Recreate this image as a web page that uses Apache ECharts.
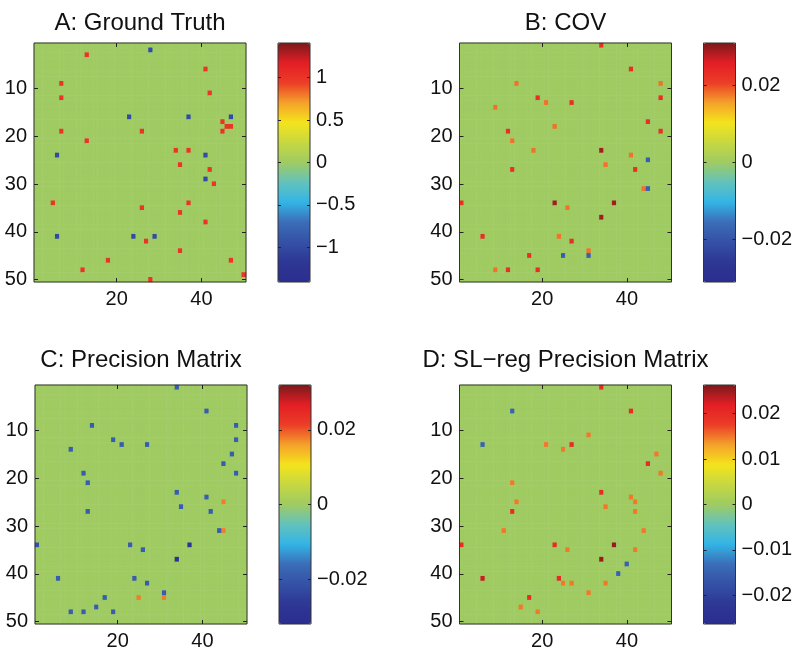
<!DOCTYPE html>
<html lang="en">
<head>
<meta charset="utf-8">
<title>Ground truth vs estimated precision matrices</title>
<script src="https://cdn.jsdelivr.net/npm/echarts@6/dist/echarts.min.js"></script>
<style>
    body { margin: 0; background: #fff; }
    #chart { width: 800px; height: 656px; }
</style>
</head>
<body>
<div id="chart"></div>

<script>
    // matrix size and tick labels
    var N = 50;
    var xTicks = [20, 40];
    var yTicks = [10, 20, 30, 40, 50];

    // nonzero entries as [column, row, value]; every other cell is 0
    var groundTruth = [
        [13,3,1],[28,2,-1],[41,6,1],[7,9,1],[42,11,1],[7,12,1],[23,16,-1],[37,16,-1],[47,16,-1],
        [45,17,1],[46,18,1],[47,18,1],[7,19,1],[26,19,1],[45,19,1],[13,21,1],[34,23,1],[37,23,1],
        [6,24,-1],[41,24,-1],[35,26,1],[42,27,1],[41,29,-1],[43,30,1],[5,34,1],[37,34,1],[26,35,1],
        [35,36,1],[41,38,1],[6,41,-1],[24,41,-1],[29,41,-1],[27,42,1],[35,44,1],[18,46,1],[47,46,1],
        [12,48,1],[50,49,1],[28,50,1]
    ];
    var covEst = [
        [34,1,0.023],[41,6,0.023],[14,9,0.018],[48,9,0.018],[19,12,0.023],[48,12,0.023],[21,13,0.018],
        [27,13,0.023],[9,14,0.018],[45,17,0.023],[23,18,0.018],[12,19,0.023],[48,19,0.023],[13,21,0.018],
        [18,23,0.018],[34,23,0.029],[41,24,0.018],[45,25,-0.018],[35,26,0.018],[13,27,0.023],[42,27,0.023],
        [44,31,0.018],[45,31,-0.018],[1,34,0.023],[23,34,0.029],[37,34,0.029],[26,35,0.018],[34,37,0.029],
        [6,41,0.023],[24,41,0.018],[27,42,0.023],[31,44,0.018],[17,45,0.023],[25,45,-0.018],[31,45,-0.018],
        [9,48,0.018],[12,48,0.023],[19,48,0.023]
    ];
    var precisionEst = [
        [34,1,-0.019],[41,6,-0.019],[14,9,-0.019],[48,9,-0.019],[19,12,-0.019],[48,12,-0.019],[21,13,-0.019],
        [27,13,-0.019],[9,14,-0.019],[47,15,-0.019],[45,17,-0.019],[12,19,-0.019],[48,19,-0.019],[13,21,-0.019],
        [34,23,-0.019],[41,24,-0.019],[45,25,0.018],[35,26,-0.019],[13,27,-0.019],[42,27,-0.019],[44,31,-0.019],
        [45,31,0.018],[1,34,-0.021],[23,34,-0.019],[37,34,-0.029],[26,35,-0.019],[34,37,-0.029],[6,41,-0.019],
        [24,41,-0.019],[27,42,-0.019],[31,44,-0.019],[17,45,-0.019],[25,45,0.018],[31,45,0.018],[15,47,-0.019],
        [9,48,-0.019],[12,48,-0.019],[19,48,-0.019]
    ];
    var slregEst = [
        [34,1,0.02],[13,6,-0.015],[41,6,0.02],[31,11,0.015],[6,13,-0.015],[21,13,0.015],[27,13,0.02],
        [25,14,0.015],[47,15,0.015],[45,17,0.02],[48,19,0.015],[13,21,0.015],[34,23,0.02],[41,24,0.015],
        [14,25,0.015],[42,25,0.015],[35,26,0.015],[13,27,0.02],[42,27,0.015],[11,31,0.015],[44,31,0.015],
        [1,34,0.02],[23,34,0.02],[37,34,0.025],[26,35,0.015],[42,35,0.015],[34,37,0.025],[40,38,-0.015],
        [38,40,-0.015],[6,41,0.023],[24,41,0.02],[25,42,0.015],[27,42,0.015],[35,42,0.015],[31,44,0.015],
        [17,45,0.02],[15,47,0.015],[19,48,0.015]
    ];

    var titles = ['A: Ground Truth', 'B: COV', 'C: Precision Matrix', 'D: SL\u2212reg Precision Matrix'];
    var colorMax = [1.41, 0.031, 0.032, 0.0263];
    var colorTicks = [
        [1, 0.5, 0, -0.5, -1],
        [0.02, 0, -0.02],
        [0.02, 0, -0.02],
        [0.02, 0.01, 0, -0.01, -0.02]
    ];
</script>

<script>
    var FONT = '"Liberation Sans", Arial, Helvetica, sans-serif';
    var jet = ['#2b2e8e', '#2e3795', '#3451a6', '#3b6db8', '#33b4e6', '#63c2bd', '#9fcb62',
               '#c6d842', '#f4e41c', '#f4a12a', '#ec3d27', '#e31e25', '#7b1a1c'];

    var matrices = [groundTruth, covEst, precisionEst, slregEst];
    var panels = [
        { left: 34, top: 43, titleTop: 11 },
        { left: 459.5, top: 43, titleTop: 11 },
        { left: 35, top: 385, titleTop: 348 },
        { left: 459.5, top: 385, titleTop: 348 }
    ];
    var W = 212, H = 239, BAR_W = 32, BAR_GAP = 32;

    var cats = [];
    for (var k = 1; k <= N; k++) cats.push(String(k));

    // full matrix for the heatmap, zeros outside the listed entries
    function fullMatrix(entries) {
        var lookup = {};
        entries.forEach(function (e) { lookup[(e[0] - 1) + ',' + (e[1] - 1)] = e[2]; });
        var out = [];
        for (var c = 0; c < N; c++) {
            for (var r = 0; r < N; r++) {
                var v = lookup[c + ',' + r];
                out.push([c, r, v === undefined ? 0 : v]);
            }
        }
        return out;
    }

    function minusSign(v) {
        return String(v).replace('-', '\u2212');
    }
    function onTicks(list) {
        return function (idx, val) { return list.indexOf(+val) >= 0; };
    }

    var labelStyle = { color: '#111', fontFamily: FONT, fontSize: 20 };
    var tickLine = { color: '#222', width: 1 };

    var option = {
        animation: false,
        title: [], grid: [], xAxis: [], yAxis: [], visualMap: [], series: []
    };

    // axis carrying only tick marks, moved onto the opposite edge so the marks point inward
    function tickOnlyAxis(base, offset, len) {
        return Object.assign({
            offset: offset, z: 12,
            axisLine: { show: false }, splitLine: { show: false }, axisLabel: { show: false },
            axisTick: { show: true, length: len, lineStyle: tickLine }
        }, base);
    }

    panels.forEach(function (p, i) {
        var cx = p.left + W / 2;
        option.title.push({
            text: titles[i], left: cx, top: p.titleTop, textAlign: 'center', padding: 0,
            textStyle: { fontFamily: FONT, fontSize: 24, fontWeight: 'normal', color: '#111' }
        });

        // image grid
        var g = option.grid.length;
        option.grid.push({
            left: p.left, top: p.top, width: W, height: H, show: true, z: 10,
            backgroundColor: 'transparent', borderColor: '#333', borderWidth: 1
        });
        var xi = option.xAxis.length, yi = option.yAxis.length;
        option.xAxis.push({
            type: 'category', data: cats, gridIndex: g, position: 'bottom',
            axisLine: { show: false }, splitLine: { show: false }, axisTick: { show: false },
            axisLabel: Object.assign({ margin: 7, interval: onTicks(xTicks) }, labelStyle)
        });
        option.yAxis.push({
            type: 'category', data: cats, gridIndex: g, position: 'left', inverse: true,
            axisLine: { show: false }, splitLine: { show: false }, axisTick: { show: false },
            axisLabel: Object.assign({ margin: 7, interval: onTicks(yTicks) }, labelStyle)
        });
        ['top', 'bottom'].forEach(function (pos) {
            var a = tickOnlyAxis({ type: 'category', data: cats, gridIndex: g, position: pos }, -H, 4);
            a.axisTick.interval = onTicks(xTicks);
            a.axisTick.alignWithLabel = true;
            option.xAxis.push(a);
        });
        ['left', 'right'].forEach(function (pos) {
            var a = tickOnlyAxis({ type: 'category', data: cats, gridIndex: g, position: pos, inverse: true }, -W, 4);
            a.axisTick.interval = onTicks(yTicks);
            a.axisTick.alignWithLabel = true;
            option.yAxis.push(a);
        });

        option.series.push({
            type: 'heatmap', xAxisIndex: xi, yAxisIndex: yi,
            data: fullMatrix(matrices[i]), progressive: 0,
            emphasis: { disabled: true }, itemStyle: { borderWidth: 0 }
        });

        // colorbar
        var barLeft = p.left + W + BAR_GAP;
        option.visualMap.push({
            type: 'continuous', seriesIndex: i, min: -colorMax[i], max: colorMax[i],
            calculable: false, hoverLink: false, orient: 'vertical', padding: 0,
            left: barLeft, top: p.top, itemWidth: BAR_W, itemHeight: H,
            inRange: { color: jet }
        });
        var gb = option.grid.length;
        option.grid.push({
            left: barLeft, top: p.top, width: BAR_W, height: H, show: true, z: 10,
            backgroundColor: 'transparent', borderColor: '#333', borderWidth: 1
        });
        option.xAxis.push({ type: 'value', gridIndex: gb, show: false, min: 0, max: 1 });
        option.yAxis.push({
            type: 'value', gridIndex: gb, position: 'right', min: -colorMax[i], max: colorMax[i],
            axisLine: { show: false }, splitLine: { show: false }, axisTick: { show: false },
            axisLabel: Object.assign({ margin: 6, customValues: colorTicks[i], formatter: minusSign }, labelStyle)
        });
        ['left', 'right'].forEach(function (pos) {
            var a = tickOnlyAxis({ type: 'value', gridIndex: gb, position: pos,
                min: -colorMax[i], max: colorMax[i] }, -BAR_W, 3);
            a.axisTick.customValues = colorTicks[i];
            option.yAxis.push(a);
        });
    });

    var chart = echarts.init(document.getElementById('chart'));
    chart.setOption(option);
</script>
</body>
</html>
